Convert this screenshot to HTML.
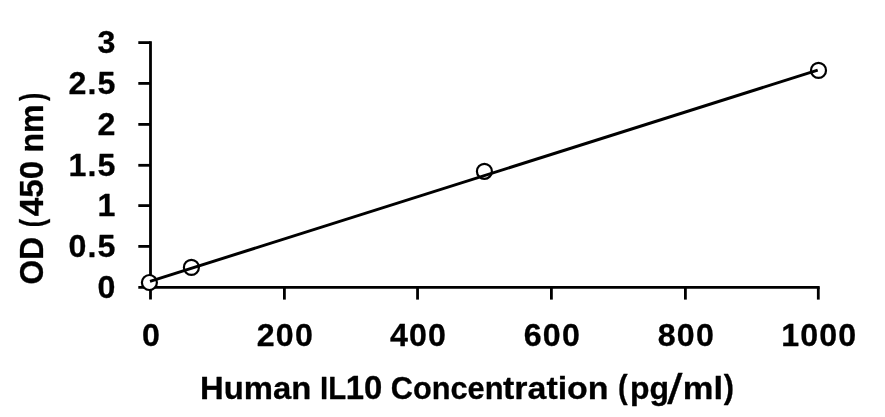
<!DOCTYPE html>
<html lang="en">
<head>
<meta charset="utf-8">
<title>Human IL10 Concentration standard curve</title>
<style>
html,body{margin:0;padding:0;background:#fff;}
body{width:885px;height:417px;overflow:hidden;}
svg{display:block;}
svg text{font-family:"Liberation Sans",Arial,sans-serif;font-weight:bold;fill:#000;}
g.num text{letter-spacing:1.15px;}
svg text{stroke:#000;stroke-width:0.3px;stroke-linejoin:round;}
</style>
</head>
<body>
<svg width="885" height="417" viewBox="0 0 885 417" role="img" aria-label="Standard curve: OD (450 nm) versus Human IL10 Concentration (pg/ml)">
<desc>Scatter chart with linear trendline. X axis: Human IL10 Concentration (pg/ml), 0 to 1000. Y axis: OD (450 nm), 0 to 3.</desc>
<rect x="0" y="0" width="885" height="417" fill="#ffffff"/>
<g stroke="#000" stroke-width="2.8" fill="none" stroke-linecap="butt">
<line x1="150.5" y1="41.20" x2="150.5" y2="299.60"/>
<line x1="138.30" y1="287.4" x2="819.70" y2="287.4"/>
<line x1="138.30" y1="246.40" x2="150.50" y2="246.40"/>
<line x1="138.30" y1="205.60" x2="150.50" y2="205.60"/>
<line x1="138.30" y1="165.30" x2="150.50" y2="165.30"/>
<line x1="138.30" y1="124.40" x2="150.50" y2="124.40"/>
<line x1="138.30" y1="83.40" x2="150.50" y2="83.40"/>
<line x1="138.30" y1="42.60" x2="150.50" y2="42.60"/>
<line x1="284.40" y1="287.40" x2="284.40" y2="299.60"/>
<line x1="417.55" y1="287.40" x2="417.55" y2="299.60"/>
<line x1="551.40" y1="287.40" x2="551.40" y2="299.60"/>
<line x1="685.40" y1="287.40" x2="685.40" y2="299.60"/>
<line x1="818.30" y1="287.40" x2="818.30" y2="299.60"/>
</g>
<g stroke="#000" stroke-width="2.2" fill="#fff">
<circle cx="149.4" cy="282.5" r="7.5"/>
<circle cx="191.4" cy="267.4" r="7.5"/>
<circle cx="484.4" cy="171.3" r="7.5"/>
<circle cx="818.5" cy="70.4" r="7.5"/>
</g>
<line x1="150" y1="281.4" x2="817.7" y2="70.15" stroke="#000" stroke-width="3" stroke-linecap="butt"/>
<g class="num" font-size="32.2" text-anchor="end">
<text x="116.6" y="297.90">0</text>
<text x="116.6" y="256.90">0.5</text>
<text x="116.6" y="216.10">1</text>
<text x="116.6" y="175.80">1.5</text>
<text x="116.6" y="134.90">2</text>
<text x="116.6" y="93.90">2.5</text>
<text x="116.6" y="53.10">3</text>
</g>
<g class="num" font-size="32.2" text-anchor="middle">
<text x="151.50" y="345.6">0</text>
<text x="285.40" y="345.6">200</text>
<text x="418.55" y="345.6">400</text>
<text x="552.40" y="345.6">600</text>
<text x="686.40" y="345.6">800</text>
<text x="819.30" y="345.6">1000</text>
</g>
<text font-size="31.9"><tspan x="199.93" y="398.90" font-size="31.9" textLength="111.31" lengthAdjust="spacingAndGlyphs">Human</tspan> <tspan x="320.06" y="398.90" font-size="31.9" textLength="26.11" lengthAdjust="spacingAndGlyphs">IL</tspan><tspan x="345.76" y="398.90" font-size="32.9" textLength="36.56" lengthAdjust="spacingAndGlyphs">10</tspan> <tspan x="390.84" y="398.90" font-size="31.9" textLength="112.56" lengthAdjust="spacingAndGlyphs">Concen</tspan><tspan x="502.99" y="398.90" font-size="31.9" textLength="105.61" lengthAdjust="spacingAndGlyphs">tration</tspan> <tspan x="617.98" y="397.90" font-size="33.4" textLength="9.65" lengthAdjust="spacingAndGlyphs">(</tspan><tspan x="630.02" y="398.90" font-size="31.9" textLength="39.00" lengthAdjust="spacingAndGlyphs">pg</tspan><tspan x="667.20" y="403.70" font-size="43.3" font-weight="normal" textLength="15.19" lengthAdjust="spacingAndGlyphs">/</tspan><tspan x="682.86" y="398.90" font-size="31.9" textLength="40.26" lengthAdjust="spacingAndGlyphs">ml</tspan><tspan x="723.87" y="397.90" font-size="33.4" textLength="10.24" lengthAdjust="spacingAndGlyphs">)</tspan></text>
<text font-size="32.4" transform="translate(43.3,0) rotate(-90)"><tspan x="-284.50" y="0.00" font-size="32.4" textLength="47.50" lengthAdjust="spacingAndGlyphs">OD</tspan> <tspan x="-227.33" y="-0.10" font-size="33.4" textLength="8.35" lengthAdjust="spacingAndGlyphs">(</tspan><tspan x="-216.20" y="0.00" font-size="32.9" textLength="55.44" lengthAdjust="spacingAndGlyphs">450</tspan> <tspan x="-152.48" y="0.00" font-size="32.4" textLength="48.03" lengthAdjust="spacingAndGlyphs">nm</tspan><tspan x="-101.12" y="-0.10" font-size="33.4" textLength="8.12" lengthAdjust="spacingAndGlyphs">)</tspan></text>
</svg>
</body>
</html>
